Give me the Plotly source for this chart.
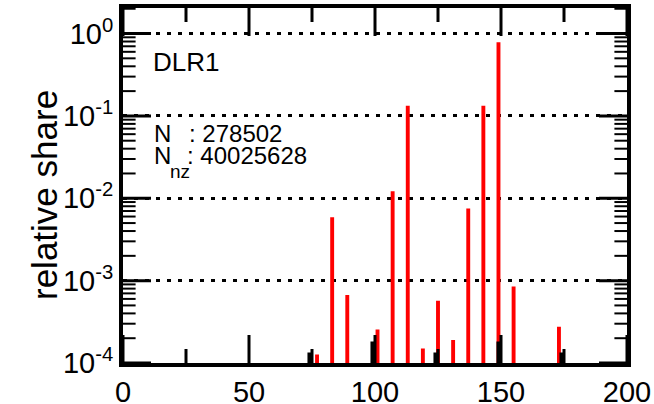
import plotly.graph_objects as go

# Data
red_x = [77, 83, 89, 101, 107, 113, 119, 125, 131, 137, 143, 149, 155, 173]
red_y = [1.27e-4, 5.9e-3, 6.7e-4, 2.55e-4, 1.22e-2, 0.133, 1.5e-4, 5.7e-4,
         1.9e-4, 7.5e-3, 0.133, 0.785, 8.5e-4, 2.75e-4]
black_x = [74, 99, 124, 149, 174]
black_y = [1.34e-4, 1.83e-4, 1.34e-4, 1.83e-4, 1.34e-4]
ytick_vals = [1e-4, 1e-3, 1e-2, 1e-1, 1e0]
ytick_text = ["10<sup>-4</sup>", "10<sup>-3</sup>", "10<sup>-2</sup>",
              "10<sup>-1</sup>", "10<sup>0</sup>"]
xtick_vals = [0, 50, 100, 150, 200]
x_minor_vals = [25, 75, 125, 175]
y_minor_mult = [2, 3, 4, 5, 6, 7, 8, 9]
label = "DLR1"
n_value = "278502"
nnz_value = "40025628"

FONT = "Liberation Sans, Arial, sans-serif"
X_RANGE = [0, 200]
Y_RANGE = [-4, 0.31]

y_minor_vals = [m * d for d in ytick_vals[:-1] for m in y_minor_mult] + [2.0]
y_bottom, y_top = 10 ** Y_RANGE[0], 10 ** Y_RANGE[1]

fig = go.Figure()
fig.add_trace(go.Bar(x=red_x, y=red_y, width=1.55, marker=dict(color="#ff0000", line=dict(width=0)),
                     showlegend=False, hoverinfo="skip"))
fig.add_trace(go.Bar(x=black_x, y=black_y, width=1.6, marker=dict(color="#000000", line=dict(width=0)),
                     showlegend=False, hoverinfo="skip"))

# Inward tick marks: line markers centred on the frame, clipped to the plot area
def tick_trace(xs, ys, symbol, size, width):
    return go.Scatter(x=xs, y=ys, mode="markers", cliponaxis=True,
                      marker=dict(symbol=symbol, size=size, color="black",
                                  line=dict(width=width, color="black")),
                      showlegend=False, hoverinfo="skip")

for yv in (y_bottom, y_top):
    fig.add_trace(tick_trace(xtick_vals, [yv] * len(xtick_vals), "line-ns", 40, 3))
    fig.add_trace(tick_trace(x_minor_vals, [yv] * len(x_minor_vals), "line-ns", 20, 3))
for xv in X_RANGE:
    fig.add_trace(tick_trace([xv] * len(ytick_vals), ytick_vals, "line-ew", 40, 3))
    fig.add_trace(tick_trace([xv] * len(y_minor_vals), y_minor_vals, "line-ew", 18, 2))

W, H = 654, 404
X0, X1, Y0, Y1 = 123, 627, 8, 363   # plot area in page pixels
L, R, T, B = X0, W - X1, Y0, H - Y1
pw, ph = X1 - X0, Y1 - Y0

def px(xp):
    return (xp - X0) / pw

def py(yp):
    return (Y1 - yp) / ph

fig.update_layout(
    width=W, height=H,
    margin=dict(l=L, r=R, t=T, b=B, pad=0, autoexpand=False),
    paper_bgcolor="white", plot_bgcolor="white",
    barmode="overlay",
    font=dict(family=FONT, color="black"),
    xaxis=dict(
        range=X_RANGE, tickmode="array", tickvals=xtick_vals, ticks="",
        showline=True, linewidth=4, linecolor="black", mirror=True,
        showgrid=False, zeroline=False, automargin=False, ticklabeloverflow="allow",
        tickfont=dict(size=29, family=FONT, color="black"),
    ),
    yaxis=dict(
        type="log", range=Y_RANGE, tickmode="array",
        tickvals=ytick_vals, ticktext=ytick_text, ticks="",
        showline=True, linewidth=4, linecolor="black", mirror=True,
        showgrid=True, gridcolor="black", gridwidth=3, griddash="4px,7px",
        zeroline=False, automargin=False, ticklabeloverflow="allow",
        tickfont=dict(size=29, family=FONT, color="black"),
    ),
)

annotations = [
    dict(text="relative share", x=px(44), y=py(195), textangle=-90,
         font=dict(size=35, family=FONT, color="black")),
    dict(text=label, x=px(151), y=py(62), xanchor="left",
         font=dict(size=26, family=FONT, color="black")),
    dict(text="N", x=px(152), y=py(133), xanchor="left",
         font=dict(size=24, family=FONT, color="black")),
    dict(text=": " + n_value, x=px(187), y=py(133), xanchor="left",
         font=dict(size=24, family=FONT, color="black")),
    dict(text="N", x=px(152), y=py(155), xanchor="left",
         font=dict(size=24, family=FONT, color="black")),
    dict(text="nz", x=px(168), y=py(171), xanchor="left",
         font=dict(size=19, family=FONT, color="black")),
    dict(text=": " + nnz_value, x=px(185), y=py(155), xanchor="left",
         font=dict(size=24, family=FONT, color="black")),
]
for a in annotations:
    a.update(xref="paper", yref="paper", yanchor="middle", showarrow=False)
    a.setdefault("xanchor", "center")
fig.update_layout(annotations=annotations)

fig.write_html("out.html", config={"displayModeBar": False},
               post_script="document.body.style.margin='0';")
